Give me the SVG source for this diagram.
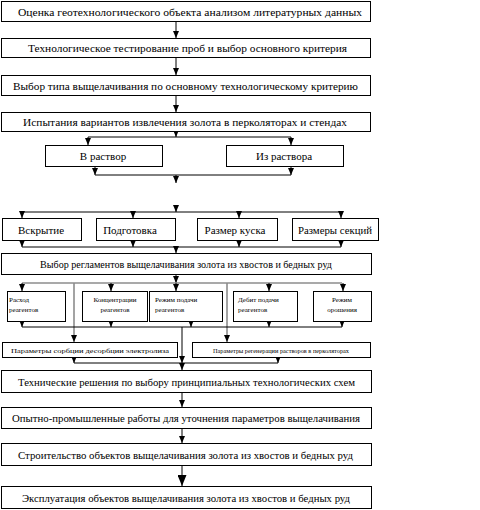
<svg xmlns="http://www.w3.org/2000/svg" width="480" height="510" viewBox="0 0 480 510" font-family="'Liberation Serif','DejaVu Serif',serif">
<style>
rect{fill:#fff;stroke:#000;stroke-width:1}
text{font-family:"Liberation Serif","DejaVu Serif",serif;fill:#000}
.t{font-size:11px;text-anchor:middle}
.s{font-size:7px}
.c{text-anchor:middle}
.p{font-size:6.5px;text-anchor:middle}
#conn path{fill:none;stroke:#000;stroke-width:1}
#conn path.g{stroke:#8c8c8c;stroke-width:1.6}
</style>
<defs>
<marker id="a" markerUnits="userSpaceOnUse" markerWidth="7" markerHeight="6" refX="7" refY="3" orient="auto"><path d="M0,0 L7,3 L0,6 z" fill="#000"/></marker>
<marker id="b" markerUnits="userSpaceOnUse" markerWidth="11" markerHeight="9" refX="11" refY="4.5" orient="auto"><path d="M0,0 L11,4.5 L0,9 z" fill="#000"/></marker>
</defs>
<g id="conn">
<path d="M176,21V38" marker-end="url(#a)"/>
<path d="M176,57V75" marker-end="url(#a)"/>
<path d="M176,95V112" marker-end="url(#a)"/>
<path d="M176,131V137" marker-end="url(#a)"/>
<path d="M88,137H291"/>
<path d="M88,137V145" marker-end="url(#a)"/>
<path d="M291,137V145" marker-end="url(#a)"/>
<path d="M95,166V175" marker-end="url(#a)"/>
<path d="M291,166V175" marker-end="url(#a)"/>
<path d="M95,175H291"/>
<path d="M176,175V183" marker-end="url(#a)"/>
<path d="M176,205V212" marker-end="url(#a)"/>
<path d="M22,212H341"/>
<path d="M22,212V218" marker-end="url(#a)"/>
<path d="M133,212V218" marker-end="url(#a)"/>
<path d="M239,212V218" marker-end="url(#a)"/>
<path d="M341,212V218" marker-end="url(#a)"/>
<path d="M22,240V247" marker-end="url(#a)"/>
<path d="M133,240V247" marker-end="url(#a)"/>
<path d="M239,240V247" marker-end="url(#a)"/>
<path d="M341,240V247" marker-end="url(#a)"/>
<path d="M22,247H341"/>
<path d="M176,247V253" marker-end="url(#a)"/>
<path d="M176,274V283" marker-end="url(#a)"/>
<path class="g" d="M22,283H342"/>
<path class="g" d="M74,283V342" marker-end="url(#a)"/>
<path class="g" d="M227,283V342" marker-end="url(#a)"/>
<path d="M22,283V291" marker-end="url(#a)"/>
<path d="M111,283V291" marker-end="url(#a)"/>
<path d="M176,283V291" marker-end="url(#a)"/>
<path d="M269,283V291" marker-end="url(#a)"/>
<path d="M343,283V291" marker-end="url(#a)"/>
<path d="M22,321V327" marker-end="url(#a)"/>
<path d="M111,321V327" marker-end="url(#a)"/>
<path d="M191,321V327" marker-end="url(#a)"/>
<path d="M269,321V327" marker-end="url(#a)"/>
<path d="M342,321V327" marker-end="url(#a)"/>
<path d="M22,327H342"/>
<path d="M182,327V363" marker-end="url(#a)"/>
<path d="M74,357V363" marker-end="url(#a)"/>
<path d="M278,357V363" marker-end="url(#a)"/>
<path d="M74,363H278"/>
<path d="M182,363V370" marker-end="url(#a)"/>
<path d="M182,392V407" marker-end="url(#a)"/>
<path d="M182,428V443" marker-end="url(#a)"/>
<path d="M182,465V486" marker-end="url(#b)"/>
</g>
<g id="n1"><rect x="1.5" y="1.5" width="369" height="20"/><text class="t" x="190" y="15.5" textLength="344" lengthAdjust="spacingAndGlyphs">Оценка геотехнологического объекта анализом литературных данных</text></g>
<g id="n2"><rect x="1.5" y="38.5" width="369" height="19"/><text class="t" x="187.5" y="52" textLength="319" lengthAdjust="spacingAndGlyphs">Технологическое тестирование проб и выбор основного критерия</text></g>
<g id="n3"><rect x="1.5" y="75.5" width="369" height="20"/><text class="t" x="185.5" y="89.5" textLength="345" lengthAdjust="spacingAndGlyphs">Выбор типа выщелачивания по основному технологическому критерию</text></g>
<g id="n4"><rect x="1.5" y="112.5" width="369" height="19"/><text class="t" x="185" y="126" textLength="324" lengthAdjust="spacingAndGlyphs">Испытания вариантов извлечения золота в перколяторах и стендах</text></g>
<g id="n5"><rect x="45.5" y="145.5" width="117" height="21"/><text class="t" x="103" y="160">В раствор</text></g>
<g id="n6"><rect x="226.5" y="145.5" width="117" height="21"/><text class="t" x="284" y="160">Из раствора</text></g>
<g id="n7"><rect x="2.5" y="218.5" width="79" height="22"/><text class="t" x="41" y="233.5">Вскрытие</text></g>
<g id="n8"><rect x="96.5" y="218.5" width="79" height="22"/><text class="t" x="130" y="233.5">Подготовка</text></g>
<g id="n9"><rect x="197.5" y="218.5" width="80" height="22"/><text class="t" x="235" y="233.5">Размер куска</text></g>
<g id="n10"><rect x="292.5" y="218.5" width="86" height="22"/><text class="t" x="335" y="233.5" textLength="74" lengthAdjust="spacingAndGlyphs">Размеры секций</text></g>
<g id="n11"><rect x="1.5" y="253.5" width="370" height="21"/><text class="t" x="186" y="268" textLength="292" lengthAdjust="spacingAndGlyphs">Выбор регламентов выщелачивания золота из хвостов и бедных руд</text></g>
<g id="n12"><rect x="7.5" y="291.5" width="58" height="30"/><text class="s" x="9" y="301.5">Расход</text><text class="s" x="9" y="311.5">реагентов</text></g>
<g id="n13"><rect x="82.5" y="291.5" width="65" height="30"/><text class="s c" x="115" y="301.5">Концентрации</text><text class="s c" x="115" y="311.5">реагентов</text></g>
<g id="n14"><rect x="149.5" y="291.5" width="73" height="30"/><text class="s" x="155" y="301.5">Режим подачи</text><text class="s" x="155" y="311.5">реагентов</text></g>
<g id="n15"><rect x="233.5" y="291.5" width="64" height="30"/><text class="s" x="238" y="301.5">Дебит подачи</text><text class="s" x="238" y="311.5">реагентов</text></g>
<g id="n16"><rect x="313.5" y="291.5" width="58" height="30"/><text class="s c" x="342" y="301.5">Режим</text><text class="s c" x="342" y="311.5">орошения</text></g>
<g id="n17"><rect x="2.5" y="342.5" width="175" height="15"/><text class="p" x="90" y="352.5" textLength="158" lengthAdjust="spacingAndGlyphs">Параметры сорбции десорбции электролиза</text></g>
<g id="n18"><rect x="192.5" y="342.5" width="178" height="15"/><text class="p" x="281" y="352.5" textLength="136" lengthAdjust="spacingAndGlyphs">Параметры регенерации растворов в перколяторах</text></g>
<g id="n19"><rect x="1.5" y="370.5" width="370" height="22"/><text class="t" x="186.5" y="385.5" textLength="337" lengthAdjust="spacingAndGlyphs">Технические решения по выбору принципиальных технологических схем</text></g>
<g id="n20"><rect x="1.5" y="407.5" width="370" height="21"/><text class="t" x="186" y="422" textLength="348" lengthAdjust="spacingAndGlyphs">Опытно-промышленные работы для уточнения параметров выщелачивания</text></g>
<g id="n21"><rect x="1.5" y="443.5" width="370" height="22"/><text class="t" x="185.5" y="458.5" textLength="335" lengthAdjust="spacingAndGlyphs">Строительство объектов выщелачивания золота из хвостов и бедных руд</text></g>
<g id="n22"><rect x="1.5" y="486.5" width="370" height="22"/><text class="t" x="186" y="501.5" textLength="328" lengthAdjust="spacingAndGlyphs">Эксплуатация объектов выщелачивания золота из хвостов и бедных руд</text></g>
</svg>
